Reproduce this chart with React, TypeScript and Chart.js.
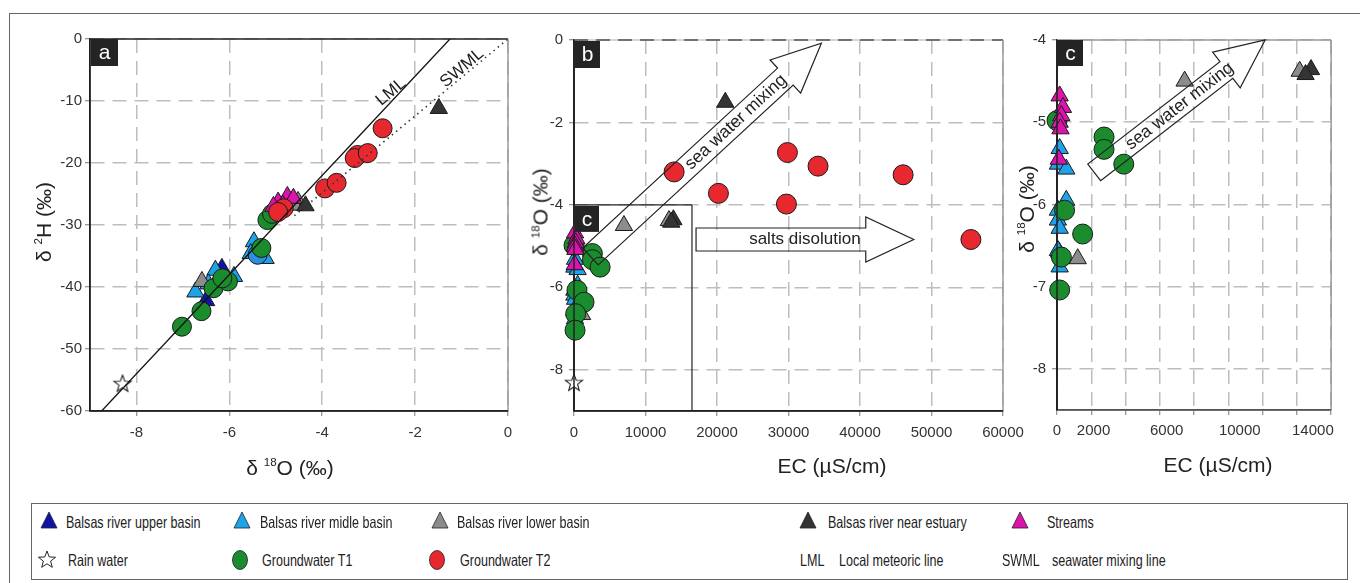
import React, { useEffect, useRef } from 'react';
import { Chart, registerables } from 'chart.js';

Chart.register(...registerables);

const FONT = '"Liberation Sans", Arial, Helvetica, sans-serif';

// ---------------- colours ----------------
const DBLUE = '#1212a6';
const LBLUE = '#1ea2ea';
const LBLUE_C = '#2a8fe0';
const GREY = '#8c8c8c';
const DARK = '#343434';
const MAGENTA = '#de12ad';
const GREEN = '#1a8c2d';
const RED = '#e8282f';

// ---------------- panel a : δ18O (x) vs δ2H (y) ----------------
const aUpperO = [-6.5, -6.16];
const aUpperH = [-42.2, -37.0];
const aMidleO = [-6.73, -6.26, -6.3, -5.9, -5.47, -5.22, -5.54, -6.45];
const aMidleH = [-40.8, -38.9, -37.3, -38.3, -32.7, -35.4, -34.6, -39.5];
const aMidleCircleO = [-5.39];
const aMidleCircleH = [-34.8];
const aLowerO = [-6.59, -4.52, -4.6];
const aLowerH = [-39.1, -26.2, -26.8];
const aEstuaryO = [-4.36, -1.49];
const aEstuaryH = [-26.9, -11.2];
const aStreamsO = [-4.75, -4.95, -5.05, -4.62, -4.85];
const aStreamsH = [-25.4, -26.3, -27.0, -25.7, -26.8];
const aT1O = [-7.02, -6.6, -6.34, -6.03, -5.31, -5.18, -5.08, -6.15];
const aT1H = [-46.4, -43.9, -40.2, -39.1, -33.7, -29.2, -28.2, -38.6];
const aT2O = [-4.83, -4.95, -2.7, -3.24, -3.3, -3.02, -3.94, -3.69];
const aT2H = [-27.3, -27.9, -14.4, -18.7, -19.2, -18.4, -24.1, -23.2];
const aRainO = [-8.3];
const aRainH = [-55.5];
const lmlO = [-8.75, -1.25];
const lmlH = [-60, 0];
const swmlO = [-4.6, 0];
const swmlH = [-28.5, 0];
const lmlLabelAt = [-2.52, -8.55];
const swmlLabelAt = [-0.99, -4.68];

// ---------------- panels b & c : EC (x) vs δ18O (y) ----------------
const ecUpper = [120];
const oUpper = [-6.58];
const ecMidle = [146, 50, 507, 507, 50, 50, 146, 50, 146];
const oMidle = [-5.32, -5.51, -5.57, -5.95, -6.07, -6.19, -6.29, -6.56, -6.76];
const ecLower = [6983, 13280, 1133];
const oLower = [-4.5, -4.38, -6.66];
const ecEstuary = [13900, 21160, 13600];
const oEstuary = [-4.36, -1.51, -4.42];
const ecStreams = [146, 324, 237, 146, 190, 100];
const oStreams = [-4.68, -4.82, -4.92, -5.0, -5.08, -5.45];
const ecT1 = [0, 2574, 2574, 3653, 415, 1403, 237, 146];
const oT1 = [-4.98, -5.18, -5.33, -5.51, -6.07, -6.36, -6.64, -7.04];
const ecT2 = [14000, 20200, 29850, 29710, 34130, 46030, 55510];
const oT2 = [-3.2, -3.72, -2.73, -3.98, -3.06, -3.27, -4.84];
const ecRain = [0];
const oRain = [-8.3];

// annotations (data units)
const seaArrowB = [[2300, -5.25], [34600, -0.08]];
const saltArrowB = [[17070, -4.84], [47520, -4.84]];
const seaArrowC = [[2035, -5.61], [11390, -4.0]];
const insetBoxB = [[0, -4], [16500, -9]];

// tick labels shown on panel c x axis
const cXTickLabels = [0, 2000, 6000, 10000, 14000];

// legend
const legendRow1Names = ['Balsas river upper basin', 'Balsas river midle basin', 'Balsas river lower basin', 'Balsas river near estuary', 'Streams'];
const legendRow1Colors = [DBLUE, LBLUE, GREY, DARK, MAGENTA];
const legendRow2Names = ['Rain water', 'Groundwater T1', 'Groundwater T2'];
const legendRow2Colors = ['#ffffff', GREEN, RED];

const zip = (xs: number[], ys: number[]) => xs.map((x, i) => ({ x, y: ys[i] }));

function makeStar(r: number, fill: string, stroke: string) {
  const c = document.createElement('canvas');
  const s = Math.ceil(r * 2 + 4);
  c.width = s;
  c.height = s;
  const ctx = c.getContext('2d')!;
  ctx.translate(s / 2, s / 2 + 1);
  ctx.beginPath();
  for (let i = 0; i < 10; i++) {
    const rr = i % 2 === 0 ? r : r * 0.42;
    const a = -Math.PI / 2 + (i * Math.PI) / 5;
    if (i === 0) ctx.moveTo(rr * Math.cos(a), rr * Math.sin(a));
    else ctx.lineTo(rr * Math.cos(a), rr * Math.sin(a));
  }
  ctx.closePath();
  ctx.fillStyle = fill;
  ctx.fill();
  ctx.strokeStyle = stroke;
  ctx.lineWidth = 1.1;
  ctx.stroke();
  return c;
}

function pts(data: any[], style: any, color: string, r: number) {
  return {
    data,
    pointStyle: style,
    pointRadius: r,
    pointHoverRadius: r,
    pointBackgroundColor: color,
    pointBorderColor: '#1a1a1a',
    pointBorderWidth: 1,
    showLine: false,
    clip: 12,
  };
}

function lineSet(data: any[], color: string, width: number, dash: number[]) {
  return {
    data,
    showLine: true,
    pointRadius: 0,
    pointHoverRadius: 0,
    borderColor: color,
    borderWidth: width,
    borderDash: dash,
    fill: false,
  };
}

type Geo = { left: number; top: number; w: number; h: number; pl: number; pt: number; pr: number; pb: number };

const TICK_FONT = { family: FONT, size: 15 };

function scale(o: any) {
  return {
    type: 'linear',
    min: o.min,
    max: o.max,
    afterFit: (s: any) => {
      if (o.w !== undefined) s.width = o.w;
      if (o.h !== undefined) s.height = o.h;
    },
    ticks: {
      stepSize: o.step,
      includeBounds: false,
      autoSkip: false,
      maxRotation: 0,
      minRotation: 0,
      padding: o.pad,
      color: o.hideLabels ? 'rgba(0,0,0,0)' : '#333',
      font: TICK_FONT,
      callback: (v: number) => String(v),
    },
    grid: { color: '#bdbdbd', lineWidth: 1.5, tickLength: 5, tickColor: '#777', tickWidth: 1 },
    border: { display: true, color: '#222', width: 1.5, dash: [14, 8] },
  };
}

function line(ctx: CanvasRenderingContext2D, x1: number, y1: number, x2: number, y2: number, color: string, w: number, dash: number[] = []) {
  ctx.save();
  ctx.strokeStyle = color;
  ctx.lineWidth = w;
  ctx.setLineDash(dash);
  ctx.beginPath();
  ctx.moveTo(x1, y1);
  ctx.lineTo(x2, y2);
  ctx.stroke();
  ctx.restore();
}

function labelBox(ctx: CanvasRenderingContext2D, x: number, y: number, w: number, h: number, t: string) {
  ctx.save();
  ctx.fillStyle = '#242424';
  ctx.fillRect(x, y, w, h);
  ctx.fillStyle = '#fff';
  ctx.font = `21px ${FONT}`;
  ctx.textAlign = 'center';
  ctx.textBaseline = 'middle';
  ctx.fillText(t, x + w / 2, y + h / 2 + 1);
  ctx.restore();
}

function px(chart: any, p: number[]) {
  return { x: chart.scales.x.getPixelForValue(p[0]), y: chart.scales.y.getPixelForValue(p[1]) };
}

function drawArrow(ctx: CanvasRenderingContext2D, p0: any, p1: any, bh: number, hh: number, hl: number) {
  const dx = p1.x - p0.x;
  const dy = p1.y - p0.y;
  const L = Math.hypot(dx, dy);
  const ux = dx / L, uy = dy / L;
  const nx = -uy, ny = ux;
  const bx = p1.x - ux * hl, by = p1.y - uy * hl;
  const P = [
    [p0.x + nx * bh, p0.y + ny * bh],
    [bx + nx * bh, by + ny * bh],
    [bx + nx * hh, by + ny * hh],
    [p1.x, p1.y],
    [bx - nx * hh, by - ny * hh],
    [bx - nx * bh, by - ny * bh],
    [p0.x - nx * bh, p0.y - ny * bh],
  ];
  ctx.save();
  ctx.beginPath();
  P.forEach(([x, y], i) => (i ? ctx.lineTo(x, y) : ctx.moveTo(x, y)));
  ctx.closePath();
  ctx.strokeStyle = '#222';
  ctx.lineWidth = 1.2;
  ctx.stroke();
  ctx.restore();
}

function textAlong(ctx: CanvasRenderingContext2D, p0: any, p1: any, frac: number, text: string, size: number, angle?: number) {
  const ang = angle !== undefined ? angle : Math.atan2(p1.y - p0.y, p1.x - p0.x);
  ctx.save();
  ctx.translate(p0.x + (p1.x - p0.x) * frac, p0.y + (p1.y - p0.y) * frac);
  ctx.rotate(ang);
  ctx.font = `${size}px ${FONT}`;
  ctx.fillStyle = '#222';
  ctx.textAlign = 'center';
  ctx.textBaseline = 'middle';
  ctx.fillText(text, 0, 0);
  ctx.restore();
}

function decoPlugin(frame: any, after: (chart: any) => void) {
  return {
    id: 'deco',
    beforeDatasetsDraw(chart: any) {
      const { ctx, chartArea: a } = chart;
      if (frame.topUnder) line(ctx, a.left, a.top, a.right, a.top, frame.topUnder, 1.5);
      line(ctx, a.left, a.top, a.right, a.top, frame.top, 1.5, frame.topDash || []);
      line(ctx, a.right, a.top, a.right, a.bottom, frame.right, 1.5);
      line(ctx, a.left, a.bottom, a.right, a.bottom, frame.bottom, 1.5);
      line(ctx, a.left, a.top, a.left, a.bottom, frame.left, 1.5);
    },
    afterDatasetsDraw(chart: any) {
      after(chart);
    },
  };
}

function baseOptions(g: Geo, x: any, y: any) {
  return {
    responsive: false,
    maintainAspectRatio: false,
    devicePixelRatio: 1,
    animation: false,
    events: [],
    layout: { padding: { top: g.pt, right: g.pr, left: 0, bottom: 0 } },
    plugins: { legend: { display: false }, tooltip: { enabled: false } },
    scales: { x, y },
  };
}

const GA: Geo = { left: 10, top: 25, w: 515, h: 465, pl: 90, pt: 14, pr: 17, pb: 411 };
const GB: Geo = { left: 525, top: 25, w: 510, h: 465, pl: 574, pt: 14, pr: 32, pb: 411 };
const GC: Geo = { left: 1000, top: 25, w: 360, h: 465, pl: 1057, pt: 14, pr: 25, pb: 410 };

function configA(star: HTMLCanvasElement) {
  const plugin = decoPlugin({ top: '#222', right: '#9a9a9a', bottom: '#222', left: '#222' }, (chart) => {
    const { ctx, chartArea: a } = chart;
    const l = px(chart, lmlLabelAt);
    const s = px(chart, swmlLabelAt);
    textAlong(ctx, l, l, 0, 'LML', 17, (-40 * Math.PI) / 180);
    textAlong(ctx, s, s, 0, 'SWML', 17, (-40 * Math.PI) / 180);
    labelBox(ctx, a.left + 1, a.top, 27, 27, 'a');
  });
  return {
    type: 'scatter',
    data: {
      datasets: [
        lineSet(zip(lmlO, lmlH), '#111', 1.3, []),
        lineSet(zip(swmlO, swmlH), '#333', 1.6, [1.5, 4]),
        pts(zip(aT2O, aT2H), 'circle', RED, 9.5),
        pts(zip(aStreamsO, aStreamsH), 'triangle', MAGENTA, 10),
        pts(zip(aT1O, aT1H), 'circle', GREEN, 9.5),
        pts(zip(aEstuaryO, aEstuaryH), 'triangle', DARK, 10),
        pts(zip(aLowerO, aLowerH), 'triangle', GREY, 10),
        pts(zip(aMidleCircleO, aMidleCircleH), 'circle', LBLUE_C, 9.5),
        pts(zip(aMidleO, aMidleH), 'triangle', LBLUE, 10),
        pts(zip(aUpperO, aUpperH), 'triangle', DBLUE, 10),
        pts(zip(aRainO, aRainH), star, '#fff', 9),
      ],
    },
    options: baseOptions(
      GA,
      scale({ min: -9, max: 0, step: 2, pad: 8, h: GA.top + GA.h - GA.pb }),
      scale({ min: -60, max: 0, step: 10, pad: 3, w: GA.pl - GA.left })
    ),
    plugins: [plugin],
  };
}

function ecDatasets(star: HTMLCanvasElement | null) {
  const ds: any[] = [
    pts(zip(ecT2, oT2), 'circle', RED, 10),
    pts(zip(ecStreams, oStreams), 'triangle', MAGENTA, 10),
    pts(zip(ecT1, oT1), 'circle', GREEN, 10),
    pts(zip(ecEstuary, oEstuary), 'triangle', DARK, 10),
    pts(zip(ecLower, oLower), 'triangle', GREY, 10),
    pts(zip(ecMidle, oMidle), 'triangle', LBLUE, 10),
    pts(zip(ecUpper, oUpper), 'triangle', DBLUE, 10),
  ];
  if (star) ds.push(pts(zip(ecRain, oRain), star, '#fff', 9));
  return ds;
}

function configB(star: HTMLCanvasElement) {
  const plugin = decoPlugin({ topUnder: '#c8c8c8', top: '#555', topDash: [14, 8], right: '#9a9a9a', bottom: '#222', left: '#222' }, (chart) => {
    const { ctx, chartArea: a } = chart;
    line(ctx, a.left, a.top, a.left, a.bottom, '#222', 1.5);
    const b0 = px(chart, insetBoxB[0]);
    const b1 = px(chart, insetBoxB[1]);
    line(ctx, b0.x, b0.y, b1.x, b0.y, '#222', 1.2);
    line(ctx, b1.x, b0.y, b1.x, b1.y, '#222', 1.2);
    const s0 = px(chart, seaArrowB[0]);
    const s1 = px(chart, seaArrowB[1]);
    drawArrow(ctx, s0, s1, 11.5, 22.5, 49);
    textAlong(ctx, s0, s1, 0.63, 'sea water mixing', 17.5);
    const t0 = px(chart, saltArrowB[0]);
    const t1 = px(chart, saltArrowB[1]);
    drawArrow(ctx, t0, t1, 11.5, 22.5, 48);
    textAlong(ctx, t0, t1, 0.5, 'salts disolution', 17);
    labelBox(ctx, a.left + 1, a.top + 1, 25, 27, 'b');
    labelBox(ctx, b0.x + 1, b0.y + 1, 24, 26, 'c');
  });
  return {
    type: 'scatter',
    data: { datasets: ecDatasets(star) },
    options: baseOptions(
      GB,
      scale({ min: 0, max: 60000, step: 10000, pad: 8, h: GB.top + GB.h - GB.pb }),
      scale({ min: -9, max: 0, step: 2, pad: 6, w: GB.pl - GB.left })
    ),
    plugins: [plugin],
  };
}

function configC() {
  const plugin = decoPlugin({ top: '#9a9a9a', right: '#9a9a9a', bottom: '#666', left: '#222' }, (chart) => {
    const { ctx, chartArea: a } = chart;
    line(ctx, a.left, a.top, a.left, a.bottom, '#222', 1.5);
    const s0 = px(chart, seaArrowC[0]);
    const s1 = px(chart, seaArrowC[1]);
    drawArrow(ctx, s0, s1, 10.5, 22.5, 49);
    textAlong(ctx, s0, s1, 0.5, 'sea water mixing', 17.5);
    labelBox(ctx, a.left + 1, a.top, 25, 26, 'c');
    // x tick labels (subset of the 2000-step ticks)
    const xs = chart.scales.x;
    ctx.save();
    ctx.font = `${TICK_FONT.size}px ${FONT}`;
    ctx.fillStyle = '#333';
    ctx.textAlign = 'center';
    ctx.textBaseline = 'top';
    cXTickLabels.forEach((v) => ctx.fillText(String(v), xs.getPixelForValue(v), a.bottom + 13));
    ctx.restore();
  });
  return {
    type: 'scatter',
    data: { datasets: ecDatasets(null) },
    options: baseOptions(
      GC,
      scale({ min: 0, max: 15000, step: 2000, pad: 8, hideLabels: true, h: GC.top + GC.h - GC.pb }),
      scale({ min: -8.5, max: -4, step: 1, pad: 6, w: GC.pl - GC.left })
    ),
    plugins: [plugin],
  };
}

const abs = (left: number, top: number, extra: any = {}) => ({ position: 'absolute' as const, left, top, ...extra });

function Title({ x, y, rot, children }: any) {
  return (
    <div
      style={abs(x, y, {
        transform: `translate(-50%, -50%)${rot ? ' rotate(-90deg)' : ''}`,
        fontFamily: FONT,
        fontSize: 21,
        color: '#222',
        whiteSpace: 'nowrap',
        lineHeight: '24px',
      })}
    >
      {children}
    </div>
  );
}

const sup = { fontSize: '0.55em', verticalAlign: '0.7em' };

function LegendText({ x, y, children }: any) {
  return (
    <div
      style={abs(x, y, {
        transform: 'translateY(-50%) scaleX(0.76)',
        transformOrigin: 'left center',
        fontFamily: FONT,
        fontSize: 16.5,
        lineHeight: '18px',
        color: '#222',
        whiteSpace: 'nowrap',
      })}
    >
      {children}
    </div>
  );
}

function Tri({ x, y, color }: any) {
  return (
    <svg width={18} height={18} style={abs(x - 9, y - 10)}>
      <polygon points="9,1 17,17 1,17" fill={color} stroke="#222" strokeWidth={0.8} />
    </svg>
  );
}

function Ell({ x, y, color }: any) {
  return (
    <svg width={18} height={22} style={abs(x - 9, y - 11)}>
      <ellipse cx={9} cy={11} rx={7.5} ry={9.5} fill={color} stroke="#222" strokeWidth={0.8} />
    </svg>
  );
}

function StarIcon({ x, y }: any) {
  const p: string[] = [];
  for (let i = 0; i < 10; i++) {
    const rr = i % 2 === 0 ? 9 : 3.8;
    const a = -Math.PI / 2 + (i * Math.PI) / 5;
    p.push(`${(10 + rr * Math.cos(a)).toFixed(2)},${(11 + rr * Math.sin(a)).toFixed(2)}`);
  }
  return (
    <svg width={20} height={22} style={abs(x - 10, y - 11)}>
      <polygon points={p.join(' ')} fill="#fff" stroke="#222" strokeWidth={1} />
    </svg>
  );
}

const row1MarkerX = [49, 242, 440, 808, 1020];
const row1TextX = [66, 260, 457, 828, 1047];
const row2MarkerX = [47, 240, 437];
const row2TextX = [68, 262, 460];
const ROW1 = 521;
const ROW2 = 560;

export default function App() {
  const refA = useRef<HTMLCanvasElement>(null);
  const refB = useRef<HTMLCanvasElement>(null);
  const refC = useRef<HTMLCanvasElement>(null);

  useEffect(() => {
    const star = makeStar(9, '#fff', '#222');
    const charts: Chart[] = [];
    charts.push(new Chart(refA.current!, configA(star) as any));
    charts.push(new Chart(refB.current!, configB(star) as any));
    charts.push(new Chart(refC.current!, configC() as any));
    return () => charts.forEach((c) => c.destroy());
  }, []);

  return (
    <div style={abs(0, 0, { width: 1360, height: 583, overflow: 'hidden', background: '#fff' })}>
      <div style={abs(9, 13, { width: 1400, height: 620, borderLeft: '1.5px solid #666', borderTop: '1.5px solid #666' })} />
      <canvas ref={refA} width={GA.w} height={GA.h} style={abs(GA.left, GA.top)} />
      <canvas ref={refB} width={GB.w} height={GB.h} style={abs(GB.left, GB.top)} />
      <canvas ref={refC} width={GC.w} height={GC.h} style={abs(GC.left, GC.top)} />

      <Title x={41} y={222} rot>
        δ <span style={sup}>2</span>H (‰)
      </Title>
      <Title x={290} y={465}>
        δ <span style={sup}>18</span>O (‰)
      </Title>
      <Title x={538} y={212} rot>
        δ <span style={sup}>18</span>O (‰)
      </Title>
      <Title x={832} y={466}>EC (µS/cm)</Title>
      <Title x={1024} y={209} rot>
        δ <span style={sup}>18</span>O (‰)
      </Title>
      <Title x={1218} y={465}>EC (µS/cm)</Title>

      <div style={abs(31, 503, { width: 1315, height: 75, border: '1.5px solid #666', background: '#fff' })} />
      {legendRow1Names.map((n, i) => (
        <React.Fragment key={n}>
          <Tri x={row1MarkerX[i]} y={ROW1} color={legendRow1Colors[i]} />
          <LegendText x={row1TextX[i]} y={ROW1 + 1}>{n}</LegendText>
        </React.Fragment>
      ))}
      <StarIcon x={row2MarkerX[0]} y={ROW2} />
      <LegendText x={row2TextX[0]} y={ROW2}>{legendRow2Names[0]}</LegendText>
      <Ell x={row2MarkerX[1]} y={ROW2} color={legendRow2Colors[1]} />
      <LegendText x={row2TextX[1]} y={ROW2}>{legendRow2Names[1]}</LegendText>
      <Ell x={row2MarkerX[2]} y={ROW2} color={legendRow2Colors[2]} />
      <LegendText x={row2TextX[2]} y={ROW2}>{legendRow2Names[2]}</LegendText>
      <LegendText x={800} y={ROW2}>LML</LegendText>
      <LegendText x={839} y={ROW2}>Local meteoric line</LegendText>
      <LegendText x={1002} y={ROW2}>SWML</LegendText>
      <LegendText x={1052} y={ROW2}>seawater mixing line</LegendText>
    </div>
  );
}
